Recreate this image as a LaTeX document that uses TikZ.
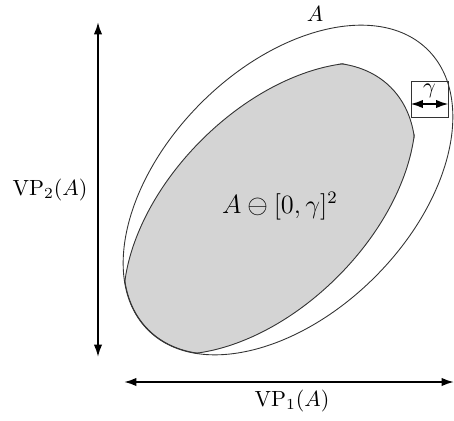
\documentclass[tikz,border=0pt]{standalone}
\usepackage{amsmath, amssymb}
\usepackage{xcolor}
\usepackage{tikz}
\usetikzlibrary{arrows.meta, positioning}

\definecolor{erodedgray}{gray}{0.83}

\begin{document}
\begin{tikzpicture}[
  x=0.455pt, y=0.455pt,
  ellA/.style={x radius=198, y radius=123, rotate=45},
  dim/.style={line width=0.85pt, {Latex[length=5.6pt, width=3.8pt]}-{Latex[length=5.6pt, width=3.8pt]}},
  outline/.style={line width=0.4pt, black!80}
]
\useasboundingbox (0,0) rectangle (454,420);

% Centres of A and its shifted copies
\coordinate (cA) at (288,230);
\coordinate (c10) at (251,230);
\coordinate (c01) at (288,193);
\coordinate (c11) at (251,193);

% Eroded set
\begin{scope}
  \clip (cA) circle [ellA];
  \clip (c10) circle [ellA];
  \clip (c01) circle [ellA];
  \clip (c11) circle [ellA];
  \fill[erodedgray] (0,0) rectangle (454,420);
  \foreach \c in {cA,c10,c01,c11}
    \draw[outline, line width=0.8pt] (\c) circle [ellA];
\end{scope}

% The set A
\draw[outline] (cA) circle [ellA];

% Nodes
\node (labA) at (315,406) {$A$};
\node (labE) at (280,214) {\large $A \ominus [0,\gamma]^2$};
\node[draw, outline, minimum width=16.8pt, minimum height=16.4pt, inner sep=0pt] (gbox) at (429.5,321) {};
\node (labG) at (429.5,329) {$\gamma$};

\coordinate (v1) at (98,63);
\coordinate (v2) at (98,398);
\coordinate (h1) at (124,38);
\coordinate (h2) at (454,38);
\coordinate (g1) at (gbox.west |- 0,316);
\coordinate (g2) at (gbox.east |- 0,316);

\node (vp2) at (50,230) {$\mathrm{VP}_2(A)$};
\node (vp1) at (292,19) {$\mathrm{VP}_1(A)$};

% Pointers
\draw[dim] (v1) -- (v2);
\draw[dim] (h1) -- (h2);
\draw[dim, line width=0.75pt] (g1) -- (g2);

\end{tikzpicture}
\end{document}
